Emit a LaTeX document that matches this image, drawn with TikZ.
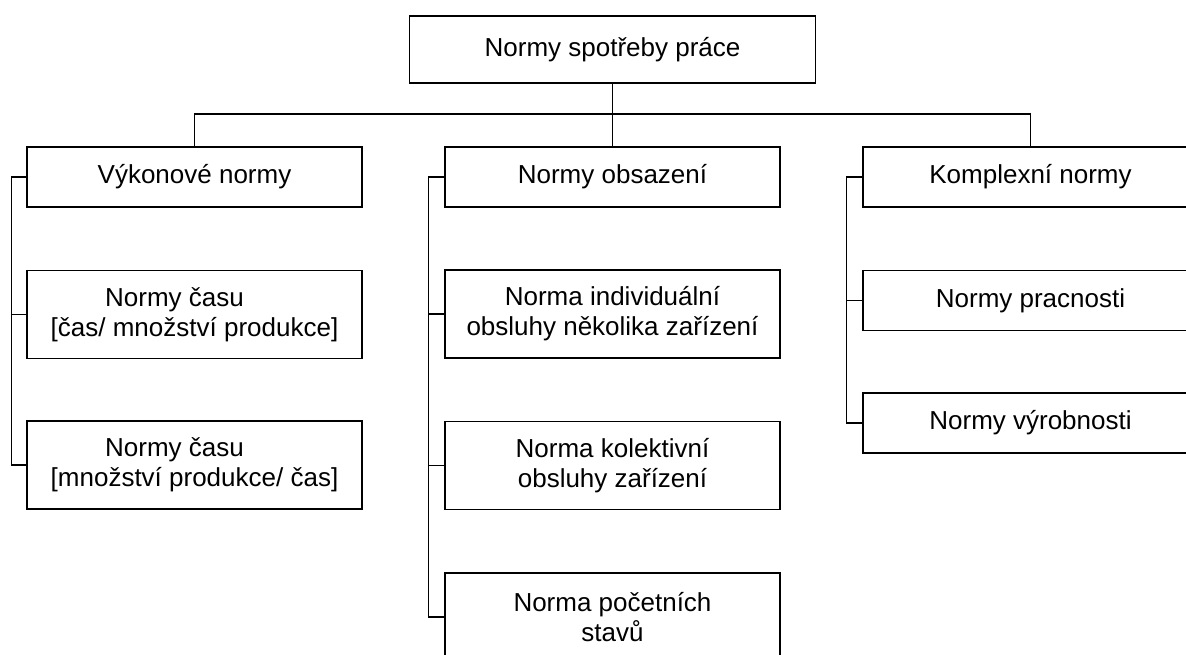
\documentclass[tikz,border=0pt]{standalone}
\usepackage{fontspec}
\setmainfont{Liberation Sans}

\begin{document}
\begin{tikzpicture}[x=1pt, y=-1pt,
       every node/.style={font=\fontsize{26}{30}\selectfont, align=center},
       norm/.style={draw, line width=1.3pt, inner sep=0pt, minimum width=335pt, minimum height=60pt},
       tall/.style={norm, minimum height=88pt},
       link/.style={draw, line width=1.3pt}]
       \useasboundingbox (0,0) rectangle (1186,654);
       % root
       \node[norm, minimum width=406pt, minimum height=67pt] (root) at (612.5,49.5) {Normy spotřeby práce};
       \coordinate (bus) at (612.5,114);
       % left column
       \node[norm] (vykon) at (194.5,177) {Výkonové normy};
       \node[tall] (cas1) at (194.5,314.5) {Normy času\rule{40pt}{0pt}\\{[čas/ množství produkce]}};
       \node[tall] (cas2) at (194.5,465) {Normy času\rule{40pt}{0pt}\\{[množství produkce/ čas]}};
       % middle column
       \node[norm] (obsaz) at (612.5,177) {Normy obsazení};
       \node[tall] (indiv) at (612.5,314) {Norma individuální\\obsluhy několika zařízení};
       \node[tall] (kolek) at (612.5,465.5) {Norma kolektivní\\obsluhy zařízení};
       \node[tall] (pocet) at (612.5,617) {Norma početních\\stavů};
       % right column
       \node[norm] (kompl) at (1030.5,177) {Komplexní normy};
       \node[norm] (prac) at (1030.5,300.5) {Normy pracnosti};
       \node[norm] (vyrob) at (1030.5,423) {Normy výrobnosti};
       % connectors
       \path[link] (root.south) -- (obsaz.north);
       \path[link] (vykon.north) |- (bus) -| (kompl.north);
       \path[link] (vykon.west) -- ++(-15,0) |- (cas2.west);
       \path[link] (cas1.west) -- ++(-15,0);
       \path[link] (obsaz.west) -- ++(-16,0) |- (pocet.west);
       \path[link] (indiv.west) -- ++(-16,0);
       \path[link] (kolek.west) -- ++(-16,0);
       \path[link] (kompl.west) -- ++(-16,0) |- (vyrob.west);
       \path[link] (prac.west) -- ++(-16,0);
\end{tikzpicture}
\end{document}
